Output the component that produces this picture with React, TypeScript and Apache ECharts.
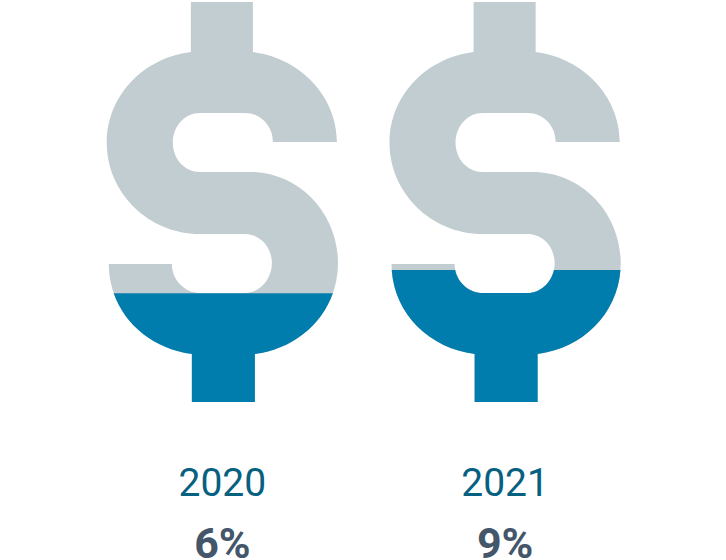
import React, { useEffect, useRef } from "react";
import * as echarts from "echarts";

const years = ["2020", "2021"];
const percentLabels = ["6%", "9%"];
const fillLevels = [27.2, 33];
const fullLevels = [100, 100];

const dollarPath =
  "path://M191 2 L253 2 L253 52 C300 58 337 96 337 142 L273 142 C273 126 261 113 245 113 L200 113 C185 113 173 126 173 143 C173 159 185 172 200 172 L250 172 C299 172 338 213 338 263 C338 311 302 348 255 354 L255 402 L192 402 L192 354 C145 348 109 311 109 264 L172 264 C172 280 185 293 200 293 L245 293 C260 293 272 279 272 263 C272 247 260 234 245 234 L200 234 C149 234 107 193 107 143 C107 96 143 58 191 52 Z";

export default function App() {
  const ref = useRef<HTMLDivElement>(null);
  useEffect(() => {
    document.body.style.margin = "0";
    const chart = echarts.init(ref.current!, null, { renderer: "svg" });
    chart.setOption({
      animation: false,
      grid: { left: 81, width: 565.5, top: 2, height: 400, outerBoundsMode: "none" },
      xAxis: {
        type: "category",
        data: years,
        axisLine: { show: false },
        axisTick: { show: false },
        axisLabel: {
          margin: 38,
          fontFamily: "Roboto",
          interval: 0,
          formatter: (v: string, i: number) => `{y|${v}}\n{p|${percentLabels[i]}}`,
          rich: {
            y: { fontFamily: "Roboto", fontSize: 39, color: "#06607f", lineHeight: 86, align: "center" },
            p: { fontFamily: "Roboto", fontSize: 43, fontWeight: "bold", color: "#44566a", lineHeight: 34, align: "center" },
          },
        },
      },
      yAxis: { type: "value", min: 0, max: 100, show: false },
      series: [
        {
          type: "pictorialBar",
          data: fullLevels,
          symbol: dollarPath,
          symbolSize: [231, "100%"],
          symbolBoundingData: 100,
          symbolPosition: "start",
          barGap: "-100%",
          itemStyle: { color: "#c2cdd2" },
          z: 1,
          silent: true,
        },
        {
          type: "pictorialBar",
          data: fillLevels,
          symbol: dollarPath,
          symbolSize: [231, "100%"],
          symbolBoundingData: 100,
          symbolClip: true,
          symbolPosition: "start",
          barGap: "-100%",
          itemStyle: { color: "#007cad" },
          z: 2,
          silent: true,
        },
      ],
    });
    return () => chart.dispose();
  }, []);
  return <div ref={ref} style={{ width: 726, height: 560 }} />;
}
